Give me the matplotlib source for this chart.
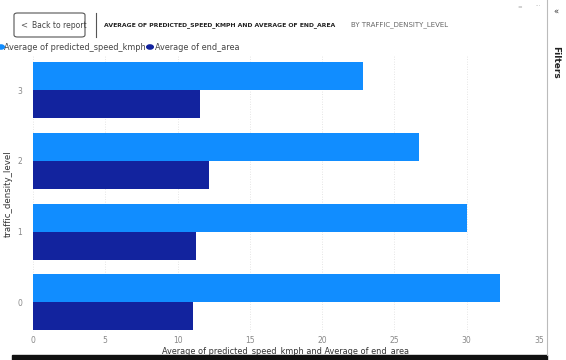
import matplotlib
matplotlib.use("Agg")
import matplotlib.pyplot as plt
from matplotlib.patches import FancyBboxPatch, Rectangle, Circle
import numpy as np

categories = ["0", "1", "2", "3"]
speed_avg = [32.3, 30.0, 26.7, 22.8]
end_area_avg = [11.1, 11.3, 12.2, 11.55]
x_ticks = [0, 5, 10, 15, 20, 25, 30, 35]

LIGHT = "#118DFF"
DARK = "#12239E"

W, H = 566, 360
plt.rcParams['font.family'] = ['DejaVu Sans']
fig = plt.figure(figsize=(W / 100, H / 100), dpi=100)

def px(x0, y0, x1, y1):
    return [x0 / W, 1 - y1 / H, (x1 - x0) / W, (y1 - y0) / H]

ax = fig.add_axes(px(33, 55, 539, 332))
ypos = np.arange(len(categories))
h = 0.395
ax.barh(ypos + h / 2, speed_avg, height=h, color=LIGHT, zorder=3)
ax.barh(ypos - h / 2, end_area_avg, height=h, color=DARK, zorder=3)
ax.set_xlim(0, 35)
ax.set_ylim(-0.42, 3.5)
ax.set_xticks(x_ticks)
ax.set_xticklabels([str(t) for t in x_ticks])
ax.set_yticks(ypos)
ax.set_yticklabels(categories)
ax.tick_params(axis='both', length=0, labelsize=5.5, colors="#888888")
ax.tick_params(axis='y', pad=8)
ax.tick_params(axis='x', pad=3)
for s in ax.spines.values():
    s.set_visible(False)
ax.grid(axis='x', color="#dddddd", linestyle=(0, (1, 2)), linewidth=0.6, zorder=0)
ax.set_xlabel("Average of predicted_speed_kmph and Average of end_area", fontsize=5.9,
              color="#333333", labelpad=1)
ax.set_ylabel("traffic_density_level", fontsize=6.2, color="#333333", labelpad=3)

# header
fig.patches.append(FancyBboxPatch((14 / W, 1 - 37 / H), 71 / W, 24 / H,
                                  boxstyle="round,pad=0,rounding_size=0.006",
                                  transform=fig.transFigure, fill=False,
                                  edgecolor="#555555", linewidth=0.8))
fig.text(20 / W, 1 - 25 / H, "<", fontsize=6, color="#555555", va="center")
fig.text(32 / W, 1 - 25 / H, "Back to report", fontsize=5.5, color="#444444", va="center")
fig.add_artist(plt.Line2D([96 / W, 96 / W], [1 - 13 / H, 1 - 37 / H], color="#555555",
                          linewidth=0.8, transform=fig.transFigure))
fig.text(104 / W, 1 - 25 / H, "AVERAGE OF PREDICTED_SPEED_KMPH AND AVERAGE OF END_AREA",
         fontsize=4.45, color="#222222", weight="bold", va="center")
fig.text(351 / W, 1 - 25 / H, "BY TRAFFIC_DENSITY_LEVEL", fontsize=5.0, color="#666666",
         va="center")

# legend
fig.patches.append(Circle((1 / W, 1 - 47 / H), 3.3 / W, transform=fig.transFigure,
                          color=LIGHT))
fig.text(4 / W, 1 - 47 / H, "Average of predicted_speed_kmph", fontsize=5.9, color="#444444",
         va="center")
fig.patches.append(Circle((150 / W, 1 - 47 / H), 3.3 / W, transform=fig.transFigure,
                          color=DARK))
fig.text(155 / W, 1 - 47 / H, "Average of end_area", fontsize=5.9, color="#444444", va="center")

# right pane
fig.add_artist(plt.Line2D([547 / W, 547 / W], [1 - 0 / H, 1 - 355 / H], color="#bbbbbb",
                          linewidth=0.8, transform=fig.transFigure))
fig.text(556 / W, 1 - 12 / H, "«", fontsize=6, color="#333333", ha="center", va="center")
fig.text(556 / W, 1 - 62 / H, "Filters", fontsize=6.5, color="#222222", ha="center",
         va="center", rotation=270, weight="bold")
fig.text(520 / W, 1 - 8 / H, "=", fontsize=4, color="#999999", ha="center", va="center")
fig.text(538 / W, 1 - 6 / H, "···", fontsize=4, color="#999999", ha="center", va="center")

# bottom bar
fig.patches.append(Rectangle((12 / W, 0), (547 - 12) / W, 5 / H, transform=fig.transFigure,
                             color="#111111"))

fig.savefig("out.png", dpi=100)
